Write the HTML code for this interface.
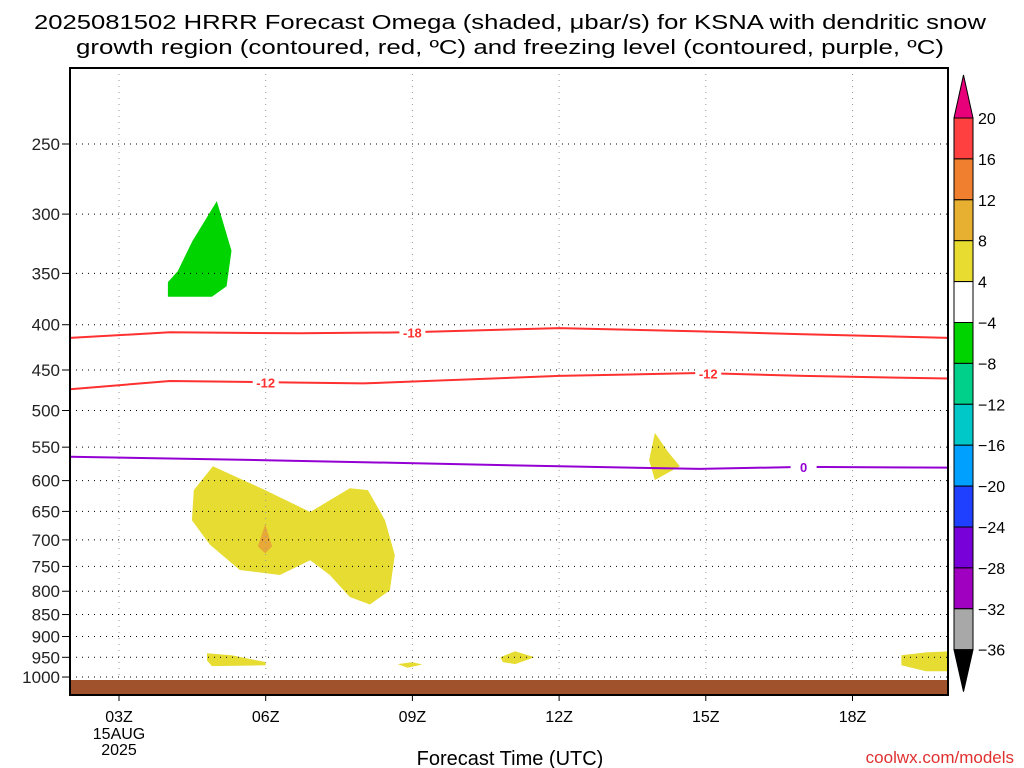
<!DOCTYPE html>
<html><head><meta charset="utf-8"><style>
body{margin:0;background:#fff;}
svg{display:block;font-family:"Liberation Sans",sans-serif;}
</style></head><body>
<svg id="chart" width="1024" height="768" viewBox="0 0 1024 768" xmlns="http://www.w3.org/2000/svg">
<text x="510" y="29" font-size="20" text-anchor="middle" textLength="952" lengthAdjust="spacingAndGlyphs" fill="#000">2025081502 HRRR Forecast Omega (shaded, μbar/s) for KSNA with dendritic snow</text>
<text x="510" y="54" font-size="20" text-anchor="middle" textLength="868" lengthAdjust="spacingAndGlyphs" fill="#000">growth region (contoured, red, ºC) and freezing level (contoured, purple, ºC)</text>
<g id="plot"></g>
<text x="510" y="765" font-size="20" text-anchor="middle" fill="#000">Forecast Time (UTC)</text>
<text x="1014" y="763" font-size="17" text-anchor="end" fill="#e03030">coolwx.com/models</text>
<g id="cbar"></g>
</svg>
<script>
const NS="http://www.w3.org/2000/svg";
const xTicks=[3,6,9,12,15,18];
const xTickLabels=["03Z","06Z","09Z","12Z","15Z","18Z"];
const pLevels=[250,300,350,400,450,500,550,600,650,700,750,800,850,900,950,1000];
const cbarLevels=[20,16,12,8,4,-4,-8,-12,-16,-20,-24,-28,-32,-36];
const cbarColors=["#ff4040","#f08030","#e8b030","#e8dc30","#ffffff","#00d400","#00d08a","#00c8c8","#00a0ff","#2040ff","#7800d8","#a000c0","#a8a8a8"];
// omega regions: [hour, hPa]
const greenBlob=[[4.0,372],[4.0,358],[4.2,348],[4.5,322],[5.0,290],[5.3,330],[5.2,362],[4.9,372]];
const yellowBig=[[4.92,578],[5.99,615],[6.91,651],[7.72,612],[8.09,615],[8.44,665],[8.64,728],[8.54,798],[8.13,828],[7.72,812],[7.31,767],[6.91,738],[6.29,767],[5.47,757],[4.86,709],[4.49,665],[4.53,615]];
const orangeSmall=[[5.99,672],[5.84,712],[5.99,725],[6.13,712]];
const yellow14=[[13.96,530],[14.23,557],[14.47,578],[13.96,599],[13.84,569]];
const yellow05=[[4.8,940],[5.3,945],[6.0,962],[6.0,970],[4.9,972],[4.8,958]];
const yellow09=[[8.7,967],[9.0,962],[9.2,968],[8.9,976]];
const yellow11=[[10.8,950],[11.1,935],[11.5,950],[11.1,967],[10.85,962]];
const yellow20=[[19.0,945],[19.5,938],[20,935],[20,985],[19.5,985],[19.0,970]];
const contM18=[[2,414],[4.04,408],[6.7,409],[8.95,408],[12,403.5],[14.88,407],[17,410],[19.95,414]];
const contM12=[[2,473],[4.04,463],[6.7,465],[8,466],[12,457],[14.88,453.5],[17,457],[19.95,460]];
const cont0=[[2,564],[6,569],[8.7,573],[12,578],[14.88,582],[17,579],[19.95,580]];
const X0=70,X1=948,Y0=68,Y1=695;
const xs=h=>119+(h-3)*48.9;
const ys=p=>144+Math.log(p/250)*384.5;
const plot=document.getElementById('plot');
function mk(tag,attrs,parent){const e=document.createElementNS(NS,tag);for(const k in attrs)e.setAttribute(k,attrs[k]);(parent||plot).appendChild(e);return e;}
function poly(pts){return pts.map((p,i)=>(i?'L':'M')+xs(p[0]).toFixed(1)+','+ys(p[1]).toFixed(1)).join('')+'Z';}
function line(pts){return pts.map((p,i)=>(i?'L':'M')+xs(p[0]).toFixed(1)+','+ys(p[1]).toFixed(1)).join('');}
mk('clipPath',{id:'clip'}).appendChild(Object.assign(document.createElementNS(NS,'rect'),{}));
document.querySelector('#clip rect').setAttribute('x',X0);document.querySelector('#clip rect').setAttribute('y',Y0);
document.querySelector('#clip rect').setAttribute('width',X1-X0);document.querySelector('#clip rect').setAttribute('height',Y1-Y0);
const g=mk('g',{'clip-path':'url(#clip)'});
// shading
[[greenBlob,'#00d400','region-green'],[yellowBig,'#e6dc32','region-yellow-main'],[orangeSmall,'#e8a838','region-orange'],[yellow14,'#e6dc32','region-yellow-14z'],[yellow05,'#e6dc32','region-yellow-05z'],[yellow09,'#e6dc32','region-yellow-09z'],[yellow11,'#e6dc32','region-yellow-11z'],[yellow20,'#e6dc32','region-yellow-20z']].forEach(r=>{
 const e=mk('path',{d:poly(r[0]),fill:r[1]},g);
 
 
});
// grid
xTicks.forEach((h,i)=>{
 const l=mk('line',{x1:xs(h),x2:xs(h),y1:Y0,y2:Y1,stroke:'#999','stroke-dasharray':'1,5'},g);
 
 
 const t=mk('line',{x1:xs(h),x2:xs(h),y1:Y1,y2:Y1+6,stroke:'#000'});
 
 
 const tx=mk('text',{x:xs(h),y:722,'font-size':16,'text-anchor':'middle',fill:'#000'});
 tx.textContent=xTickLabels[i];
 
 
});
const d1=mk('text',{x:xs(3),y:739,'font-size':16,'text-anchor':'middle',fill:'#000'});d1.textContent='15AUG';


const d2=mk('text',{x:xs(3),y:755,'font-size':16,'text-anchor':'middle',fill:'#000'});d2.textContent='2025';


pLevels.forEach(p=>{
 const l=mk('line',{x1:X0,x2:X1,y1:ys(p),y2:ys(p),stroke:'#000','stroke-dasharray':'1,5'},g);
 
 
 const t=mk('text',{x:60,y:ys(p)+6,'font-size':17,'text-anchor':'end',fill:'#222'});
 t.textContent=p;
 
 
 const tk=mk('line',{x1:62,x2:X0,y1:ys(p),y2:ys(p),stroke:'#000'});
 
 
});
// ground
const gr=mk('rect',{x:X0,y:680,width:X1-X0,height:Y1-680,fill:'#a0522d'},g);


// contours
[[contM18,'#ff3030','contour-minus18'],[contM12,'#ff3030','contour-minus12'],[cont0,'#9400d3','contour-freezing-level']].forEach(c=>{
 const e=mk('path',{d:line(c[0]),fill:'none',stroke:c[1],'stroke-width':2},g);
 
 
});
function clabel(h,p,txt,col){
 const bg=mk('rect',{x:xs(h)-13,y:ys(p)-7,width:26,height:14,fill:'#fff'},g);
 
 
 const t=mk('text',{x:xs(h),y:ys(p)+5,'font-size':13,'font-weight':'bold','text-anchor':'middle',fill:col},g);
 t.textContent=txt;
 
 
}
clabel(9.0,408,'-18','#ff3030');clabel(6.0,465,'-12','#ff3030');clabel(15.05,454,'-12','#ff3030');clabel(17.0,579,'0','#9400d3');
const fr=mk('rect',{x:X0,y:Y0,width:X1-X0,height:Y1-Y0,fill:'none',stroke:'#000','stroke-width':2});


// colorbar
const cb=document.getElementById('cbar');
const cx=954,cw=19,cTop=118,step=40.9;
const tri1=mk('path',{d:`M${cx},${cTop}L${cx+cw/2},75L${cx+cw},${cTop}Z`,fill:'#e8007a',stroke:'#000'},cb);


cbarColors.forEach((c,i)=>{
 const r=mk('rect',{x:cx,y:cTop+i*step,width:cw,height:step,fill:c,stroke:'#000','stroke-width':1},cb);
 
 
});
const bot=cTop+cbarColors.length*step;
const tri2=mk('path',{d:`M${cx},${bot}L${cx+cw/2},${bot+42}L${cx+cw},${bot}Z`,fill:'#000',stroke:'#000'},cb);


cbarLevels.forEach((v,i)=>{
 const t=mk('text',{x:978,y:cTop+i*step+6,'font-size':16,fill:'#000'},cb);
 t.textContent=v<0?'\u2212'+(-v):String(v);
 
 
});
</script>
</body></html>
